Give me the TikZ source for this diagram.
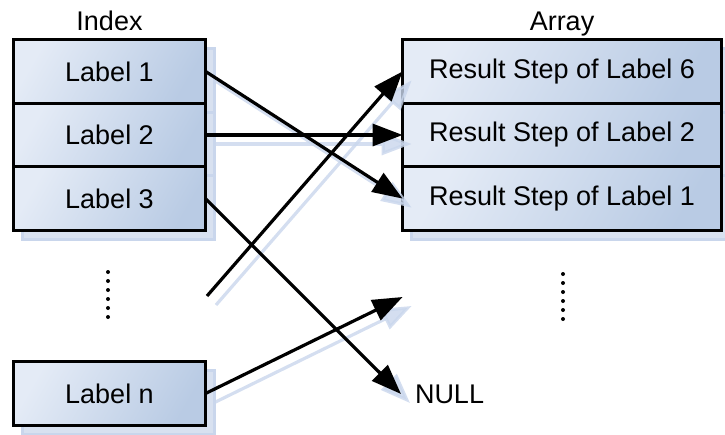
\documentclass[tikz,border=0pt]{standalone}
\usepackage{fontspec}
\setmainfont{Liberation Sans}
\usetikzlibrary{positioning,calc,arrows.meta,shadows}
\definecolor{ink}{HTML}{000000}
\definecolor{paleblue}{HTML}{E4EBF6}
\definecolor{deepblue}{HTML}{B9CBE4}
\definecolor{ghost}{HTML}{D8E1F0}
\definecolor{ghostedge}{HTML}{C9D6EC}
\tikzset{
  cell/.style={draw=ink, line width=3.2pt, outer sep=0pt, minimum height=63.6pt,
    left color=paleblue, right color=deepblue, shading angle=60,
    font=\fontsize{27}{32}\selectfont,
    copy shadow={shadow xshift=9pt, shadow yshift=-9pt, draw=ghostedge, fill=ghost}},
  keycell/.style={cell, minimum width=192pt},
  valcell/.style={cell, minimum width=318.8pt},
  title/.style={font=\fontsize{27}{32}\selectfont, text depth=0pt, outer sep=0pt},
  word/.style={font=\fontsize{27}{32}\selectfont, outer sep=0pt},
  link/.style={draw=ink, line width=3.2pt, -{Triangle[length=30pt, width=22pt]}},
  ghostlink/.style={draw=ghostedge, line width=3.2pt, opacity=0.8, -{Triangle[length=30pt, width=22pt]}},
  dot/.style={fill=ink}
}
\begin{document}
\begin{tikzpicture}[x=1pt, y=-1pt]
  \useasboundingbox (0,0) rectangle (725,434);

  % index column
  \node[keycell] (l1) at (109.5,71.4) {Label 1};
  \node[keycell, below=0pt of l1] (l2) {Label 2};
  \node[keycell, below=0pt of l2] (l3) {Label 3};
  \node[keycell] (ln) at (109.5,393.5) {Label n};
  \node[title, above=6pt of l1] (idx) {Index};

  % array column
  \node[valcell] (r1) at (562,71.4) {Result Step of Label 6};
  \node[valcell, below=0pt of r1] (r2) {Result Step of Label 2};
  \node[valcell, below=0pt of r2] (r3) {Result Step of Label 1};
  \node[title, above=6pt of r1] (arr) {Array};

  \node[word, anchor=west, inner xsep=14pt] (null) at (401,394) {NULL};
  \coordinate (loose) at (207,296);
  \coordinate (rgap) at (402.6,297);

  % vertical ellipses
  \foreach \k in {0,...,5} {
    \fill[dot] (108,272+9*\k) circle (2pt);
    \fill[dot] (563,274+9*\k) circle (2pt);
  }

  % shadows of the pointers
  \foreach \a/\b in {l1.east/r3.west, l2.east/r2.west, l3.east/null.west,
                     loose/r1.west, ln.east/rgap}
    \draw[ghostlink] ($(\a)+(9,9)$) -- ($(\b)+(9,9)$);

  % pointers
  \draw[link] (l1.east) -- (r3.west);
  \draw[link] (l2.east) -- (r2.west);
  \draw[link] (l3.east) -- (null.west);
  \draw[link] (loose) -- (r1.west);
  \draw[link] (ln.east) -- (rgap);
\end{tikzpicture}
\end{document}
